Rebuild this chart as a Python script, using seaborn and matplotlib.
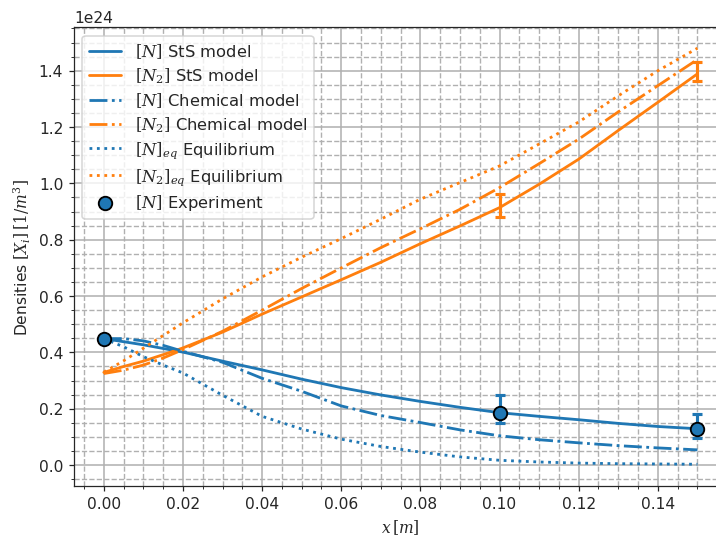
import matplotlib
matplotlib.use("Agg")
import matplotlib.pyplot as plt
import seaborn as sns
from matplotlib.ticker import AutoMinorLocator

# positions along x [m]
x = [0, 0.005, 0.01, 0.015, 0.02, 0.03, 0.04, 0.05, 0.06, 0.07, 0.08, 0.09,
     0.10, 0.11, 0.12, 0.13, 0.14, 0.15]

# densities in units of 1e24 1/m^3
n_sts = [0.449, 0.438, 0.427, 0.414, 0.401, 0.369, 0.338, 0.305, 0.275, 0.249,
         0.226, 0.205, 0.186, 0.173, 0.161, 0.148, 0.137, 0.129]
n2_sts = [0.329, 0.35, 0.369, 0.392, 0.416, 0.472, 0.536, 0.597, 0.658, 0.72,
          0.786, 0.849, 0.914, 0.997, 1.086, 1.188, 1.288, 1.389]
n_chem = [0.449, 0.449, 0.441, 0.425, 0.404, 0.365, 0.308, 0.262, 0.21, 0.176,
          0.151, 0.125, 0.104, 0.09, 0.079, 0.069, 0.061, 0.054]
n2_chem = [0.325, 0.337, 0.355, 0.38, 0.41, 0.475, 0.55, 0.627, 0.70, 0.772,
           0.839, 0.908, 0.985, 1.07, 1.157, 1.254, 1.347, 1.44]
n_eq = [0.449, 0.42, 0.385, 0.355, 0.327, 0.248, 0.173, 0.128, 0.092, 0.066,
        0.046, 0.029, 0.017, 0.011, 0.007, 0.005, 0.004, 0.003]
n2_eq = [0.33, 0.37, 0.415, 0.46, 0.505, 0.59, 0.668, 0.738, 0.804, 0.873,
         0.944, 1.003, 1.062, 1.14, 1.218, 1.311, 1.40, 1.48]

# experiment
x_exp = [0.0, 0.10, 0.15]
n_exp = [0.448, 0.186, 0.129]
n_exp_lo = [0.0, 0.036, 0.033]
n_exp_hi = [0.0, 0.064, 0.053]
x_exp2 = [0.10, 0.15]
n2_exp = [0.914, 1.389]
n2_exp_lo = [0.035, 0.024]
n2_exp_hi = [0.05, 0.043]

sns.set_style("ticks")
plt.rcParams["font.family"] = ["DejaVu Sans"]
plt.rcParams["mathtext.fontset"] = "dejavuserif"

fig = plt.figure(figsize=(6.4, 4.8), dpi=112)
ax = fig.add_axes([0.1034, 0.095, 0.911, 0.853])

s = 1e24
blue, orange = "#1f77b4", "#ff7f0e"
lw = 1.8

sns.lineplot(x=x, y=[v * s for v in n_sts], ax=ax, color=blue, lw=lw, label=r"$[N]$ StS model")
sns.lineplot(x=x, y=[v * s for v in n2_sts], ax=ax, color=orange, lw=lw, label=r"$[N_2]$ StS model")
sns.lineplot(x=x, y=[v * s for v in n_chem], ax=ax, color=blue, lw=lw, linestyle="-.", label=r"$[N]$ Chemical model")
sns.lineplot(x=x, y=[v * s for v in n2_chem], ax=ax, color=orange, lw=lw, linestyle="-.", label=r"$[N_2]$ Chemical model")
sns.lineplot(x=x, y=[v * s for v in n_eq], ax=ax, color=blue, lw=lw, linestyle=":", label=r"$[N]_{eq}$ Equilibrium")
sns.lineplot(x=x, y=[v * s for v in n2_eq], ax=ax, color=orange, lw=lw, linestyle=":", label=r"$[N_2]_{eq}$ Equilibrium")

ax.errorbar(x_exp, [v * s for v in n_exp], yerr=[[v * s for v in n_exp_lo], [v * s for v in n_exp_hi]],
            fmt="none", ecolor=blue, elinewidth=2, capsize=3, capthick=2)
ax.errorbar(x_exp2, [v * s for v in n2_exp], yerr=[[v * s for v in n2_exp_lo], [v * s for v in n2_exp_hi]],
            fmt="none", ecolor=orange, elinewidth=2, capsize=3, capthick=2)
sns.scatterplot(x=x_exp, y=[v * s for v in n_exp], ax=ax, color=blue, s=75, edgecolor="black",
                linewidth=1.2, zorder=5, label=r"$[N]$ Experiment")

ax.xaxis.set_minor_locator(AutoMinorLocator())
ax.yaxis.set_minor_locator(AutoMinorLocator())
ax.grid(which="major", color="#b0b0b0", linestyle="-", linewidth=1)
ax.grid(which="minor", color="#b0b0b0", linestyle="--", linewidth=0.9)
ax.set_axisbelow(True)
ax.set_xticks([0, 0.02, 0.04, 0.06, 0.08, 0.10, 0.12, 0.14])
ax.set_xlim(-0.0075, 0.1575)
ax.set_ylim(-0.074e24, 1.554e24)
ax.set_xlabel(r"$x\,[m]$")
ax.set_ylabel(r"Densities $[X_i]\,[1/m^3]$")
ax.legend(loc="upper left", fontsize=10.5, labelspacing=0.32)

fig.savefig("out.png", dpi=112)
